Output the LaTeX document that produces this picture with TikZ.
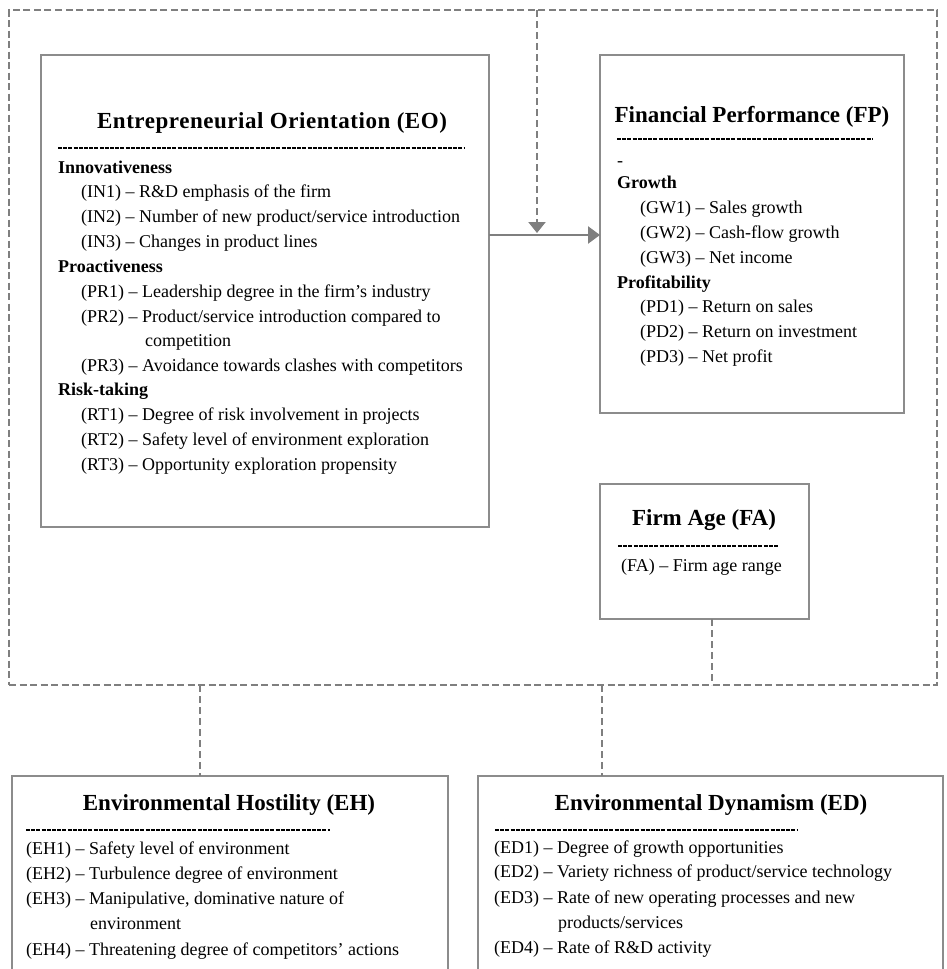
\documentclass[tikz,border=0pt]{standalone}
\usepackage{fontspec}
\setmainfont{Liberation Serif}
\usetikzlibrary{arrows.meta}
\definecolor{linegray}{HTML}{8C8C8C}
\definecolor{dashgray}{HTML}{7F7F7F}
\tikzset{
  box/.style={draw=linegray, line width=1.5pt, anchor=north west, inner sep=0pt, outer sep=0pt},
  framebox/.style={draw=dashgray, line width=2.8pt, dash pattern=on 7pt off 3.5pt, anchor=north west, inner sep=0pt, outer sep=0pt},
  item/.style={anchor=base west, inner sep=0pt, font=\fontsize{18}{20}\selectfont},
  head/.style={anchor=base west, inner sep=0pt, font=\fontsize{18}{20}\selectfont\bfseries},
  ttl/.style={anchor=base, inner sep=0pt, font=\fontsize{23}{26}\selectfont\bfseries},
  rulecut/.style={line width=1.1pt, dash pattern=on 4pt off 1.2pt},
  link/.style={draw=dashgray, line width=2.3pt, dash pattern=on 7pt off 4pt},
  tip/.style={-{Triangle[length=11pt,width=17pt]}},
  flow/.style={draw=dashgray, line width=2.5pt, -{Triangle[length=12pt,width=17pt]}},
}
\begin{document}
\begin{tikzpicture}[x=1pt,y=-1pt]
\useasboundingbox (0,0) rectangle (947,969);
\clip (0,0) rectangle (947,969);

% outer dashed frame
\node[framebox, minimum width=928pt, minimum height=675pt] (frame) at (9,10) {};

% boxes
\node[box, fill=white, minimum width=448pt, minimum height=472pt] (EO) at (41,55) {};
\node[box, fill=white, minimum width=304pt, minimum height=358pt] (FP) at (600,55) {};
\node[box, fill=white, minimum width=209pt, minimum height=135pt] (FA) at (600,484) {};
\node[box, fill=white, minimum width=436pt, minimum height=240pt] (EH) at (12,776) {};
\node[box, fill=white, minimum width=465pt, minimum height=240pt] (ED) at (478,776) {};

% EO content
\node[ttl] (eot) at (272,128) {\addfontfeature{LetterSpace=2.4}Entrepreneurial Orientation (EO)};
\draw[rulecut] (58,148) -- (465,148);
\node[head] (eo1) at (58,173) {Innovativeness};
\node[item] (eo2) at (81,197) {(IN1) – R\&D emphasis of the firm};
\node[item] (eo3) at (81,222) {(IN2) – Number of new product/service introduction};
\node[item] (eo4) at (81,247) {(IN3) – Changes in product lines};
\node[head] (eo5) at (58,272) {Proactiveness};
\node[item] (eo6) at (81,297) {(PR1) – Leadership degree in the firm’s industry};
\node[item] (eo7) at (81,322) {(PR2) – Product/service introduction compared to};
\node[item] (eo8) at (145,346) {competition};
\node[item] (eo9) at (81,371) {(PR3) – Avoidance towards clashes with competitors};
\node[head] (eo10) at (58,395) {Risk-taking};
\node[item] (eo11) at (81,420) {(RT1) – Degree of risk involvement in projects};
\node[item] (eo12) at (81,445) {(RT2) – Safety level of environment exploration};
\node[item] (eo13) at (81,470) {(RT3) – Opportunity exploration propensity};

% FP content
\node[ttl] (fpt) at (752,122) {Financial Performance (FP)};
\draw[rulecut] (617,139) -- (873,139);
\node[item] (fp0) at (617,166) {-};
\node[head] (fp1) at (617,188) {Growth};
\node[item] (fp2) at (640,213) {(GW1) – Sales growth};
\node[item] (fp3) at (640,238) {(GW2) – Cash-flow growth};
\node[item] (fp4) at (640,263) {(GW3) – Net income};
\node[head] (fp5) at (617,288) {Profitability};
\node[item] (fp6) at (640,312) {(PD1) – Return on sales};
\node[item] (fp7) at (640,337) {(PD2) – Return on investment};
\node[item] (fp8) at (640,362) {(PD3) – Net profit};

% FA content
\node[ttl] (fat) at (704,525) {Firm Age (FA)};
\draw[rulecut] (618,546) -- (778,546);
\node[item] (fa1) at (621,571) {(FA) – Firm age range};

% EH content
\node[ttl] (eht) at (229,810) {Environmental Hostility (EH)};
\draw[rulecut] (26,830) -- (330,830);
\node[item] (eh1) at (26,854) {(EH1) – Safety level of environment};
\node[item] (eh2) at (26,879) {(EH2) – Turbulence degree of environment};
\node[item] (eh3) at (26,904) {(EH3) – Manipulative, dominative nature of};
\node[item] (eh4) at (90,929) {environment};
\node[item] (eh5) at (26,955) {(EH4) – Threatening degree of competitors’ actions};

% ED content
\node[ttl] (edt) at (711,810) {Environmental Dynamism (ED)};
\draw[rulecut] (495,830) -- (798,830);
\node[item] (ed1) at (494,853) {(ED1) – Degree of growth opportunities};
\node[item] (ed2) at (494,877) {(ED2) – Variety richness of product/service technology};
\node[item] (ed3) at (494,903) {(ED3) – Rate of new operating processes and new};
\node[item] (ed4) at (558,928) {products/services};
\node[item] (ed5) at (494,953) {(ED4) – Rate of R\&D activity};

% connectors
\coordinate (eoout) at (489,235);
\draw[flow] (eoout) -- (eoout -| FP.west);
\coordinate (mod) at (537,233);
\draw[link, tip, dashgray] (mod |- frame.north) -- (mod);
\coordinate (fadown) at (712,619);
\draw[link] (fadown) -- (fadown |- frame.south);
\coordinate (ehup) at (200,776);
\draw[link] (ehup |- frame.south) -- (ehup);
\coordinate (edup) at (602,776);
\draw[link] (edup |- frame.south) -- (edup);
\end{tikzpicture}
\end{document}
